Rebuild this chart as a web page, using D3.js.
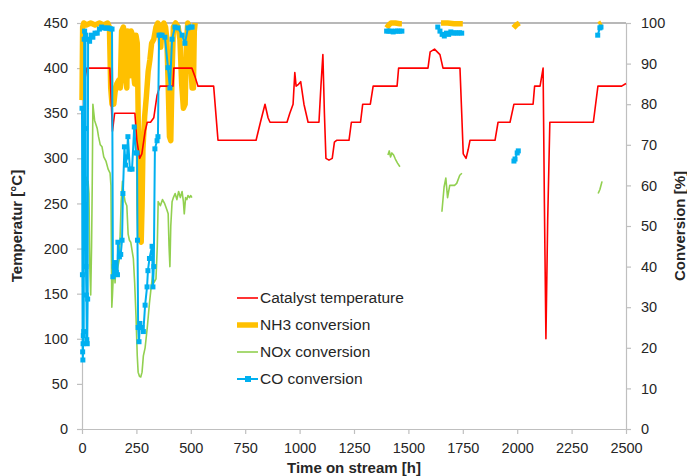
<!DOCTYPE html>
<html>
<head>
<meta charset="utf-8">
<script src="https://cdn.jsdelivr.net/npm/d3@7"></script>
<style>
body { margin: 0; background: #fff; }
svg text { font-family: "Liberation Sans", Arial, sans-serif; fill: #262626; }
</style>
</head>
<body>
<svg id="chart" width="687" height="476"></svg>
<script>
// axis ticks
const xTicks = [0, 250, 500, 750, 1000, 1250, 1500, 1750, 2000, 2250, 2500];
const tempTicks = [0, 50, 100, 150, 200, 250, 300, 350, 400, 450];
const convTicks = [0, 10, 20, 30, 40, 50, 60, 70, 80, 90, 100];

// [hours, °C]
const tempData = [[0,300],[8,300],[15,390],[22,400],[60,400],[100,400],[128,400],[140,330],[150,350],[200,350],[243,350],
[252,320],[265,300],[275,305],[290,330],[300,340],[315,340],[330,345],[345,370],[358,380],[390,380],[418,380],[422,400],
[460,400],[505,400],[520,390],[533,380],[570,380],[605,380],[625,320],[700,320],[750,320],[800,320],[820,340],[841,360],
[855,345],[864,340],[900,340],[942,340],[955,350],[970,360],[978,395],[984,380],[995,382],[1005,385],[1020,360],[1039,340],
[1089,340],[1098,380],[1107,415],[1114,350],[1121,300],[1135,298],[1150,300],[1160,318],[1170,320],[1227,320],[1238,340],
[1280,340],[1290,360],[1325,360],[1338,380],[1400,380],[1448,380],[1455,400],[1590,400],[1600,418],[1620,421],[1645,415],
[1659,400],[1737,400],[1745,350],[1752,305],[1765,300],[1775,310],[1783,320],[1898,320],[1912,340],[1967,340],[1985,360],
[2073,360],[2080,380],[2105,380],[2119,400],[2125,250],[2132,100],[2140,230],[2150,340],[2343,340],[2350,340],[2371,380],
[2480,380],[2500,383]];

// [hours, %], null = gap
const nh3Data = [[0,81],[3,99],[8,100],[20,99.5],[40,100],[60,99.5],[80,100],[100,99.5],[118,100],[126,99],[132,84],[138,80],
[146,80],[152,83],[160,85],[170,86],[176,84],[182,98],[190,99],[196,97],[200,86],[206,84],[210,98],[216,96],[220,87],[226,98],
[232,97],[236,88],[242,85],[248,97],[254,95],[258,78],[262,55],[266,47],[272,46],[276,55],[280,69],[288,77],[296,82],[304,88],
[312,91],[320,95],[330,96],[340,99],[348,100],[356,99],[362,94],[368,99],[376,100],[384,99],[390,96],[396,85],[402,72],
[408,71],[414,88],[420,99],[430,100],[442,99],[450,96],[458,85],[466,79],[474,80],[480,95],[486,100],[494,99],[500,90],
[506,84],[512,84],[516,98],[520,100],
[1410,null],[1400,98.8],[1410,99.5],[1420,100],[1440,100],[1460,99.8],[1470,99.8],
[1500,null],[1650,100],[1680,100],[1710,99.8],[1750,99.8],
[1800,null],[1983,98.8],[1995,99.5],[2010,100],
[2100,null],[2375,99.6],[2388,100]];

const noxData = [[3,35],[5,45],[8,50],[12,58],[16,60],[20,62],[24,60],[28,61],[32,58],[36,40],[40,33],[44,45],[47,60],[50,80],
[54,78],[58,76],[64,75],[70,74],[76,72],[84,70],[92,69.5],[100,67],[110,66],[120,64],[129,63],[133,60],[137,30],[140,33],
[144,38],[148,40],[152,36],[156,41],[160,38],[165,40],[172,42],[180,56],[186,61],[192,58],[198,56],[206,55],[212,48],
[218,46.5],[224,46],[230,44],[236,42],[242,36],[248,28],[254,18],[258,14],[264,13],[270,12.8],[276,14],[282,18],[290,20],
[300,25],[310,31],[318,35],[325,38],[330,36],[340,37],[346,45],[350,56],[360,55],[370,56.5],[380,55.5],[390,54],[396,53],
[400,45],[404,40],[408,50],[414,56],[420,57],[428,58],[436,56.5],[444,58.5],[452,57],[460,58.5],[466,56],[470,53],[476,57],
[482,56.5],[487,57.5],[494,57],[500,57.5],[505,57],
[1000,null],[1406,67.5],[1412,68.5],[1418,67],[1424,68],[1432,67.5],[1440,66.5],[1450,65.5],[1461,64.6],
[1500,null],[1654,53.5],[1664,59.6],[1672,61.8],[1680,57],[1690,60],[1712,60],[1722,60.5],[1736,62.5],[1746,63],
[2000,null],[2372,58],[2380,59],[2390,61]];

const coData = [[0,79],[2,38],[3,19],[4,17],[5,21],[6,23],[8,24],[10,96],[12,98],[14,74],[16,97],[18,40],[20,33],[22,22],
[24,21],[26,32],[28,96],[35,95.5],[42,97],[50,96.5],[60,97.5],[70,97.5],[80,98.5],[90,99],[100,98.8],[110,98.7],[120,98.8],
[130,98.6],[138,98.5],[142,37.5],[148,40],[152,41],[158,38.6],[163,38],[165,46],[172,42.4],[178,43],[184,46.5],[188,58],
[195,69.5],[200,65],[207,67],[211,72],[220,64],[230,64],[240,74.4],[248,68],[253,68],[255,46.5],[258,25],[262,21.5],
[266,26],[276,25],[282,24],[290,30.5],[299,35],[303,39],[310,42],[322,45],[326,35],[330,40],[335,69],[345,71],[349,72],
[354,97],[360,97],[368,97],[381,96.5],[395,89],[404,84],[414,96],[427,99],[441,98.8],[460,97],[473,95],[487,98.8],
[500,99],[506,99],
[1000,null],[1400,98],[1410,98],[1420,98],[1430,97.8],[1440,98],[1450,98],[1460,98],[1470,98],
[1500,null],[1635,99],[1645,98],[1655,97.2],[1665,96.8],[1675,97.5],[1685,97.2],[1695,97.8],[1705,97.5],[1715,97.6],
[1725,97.5],[1735,97.6],[1745,97.5],
[1800,null],[1985,66],[1990,66.5],[2000,68],[2005,68.5],
[2100,null],[2370,97],[2380,98.8],[2385,99]];

const legendNames = ["Catalyst temperature", "NH3 conversion", "NOx conversion", "CO conversion"];
const colors = ["#ff0000", "#ffc000", "#92d050", "#00b0f0"];

const margin = {left: 82, right: 61, top: 23, bottom: 47};
const W = 687, H = 476;

const svg = d3.select("#chart");

const x = d3.scaleLinear().domain([0, 2500]).range([margin.left, W - margin.right]);
const yT = d3.scaleLinear().domain([0, 450]).range([H - margin.bottom, margin.top]);
const yC = d3.scaleLinear().domain([0, 100]).range([H - margin.bottom, margin.top]);

// axes
const gx = svg.append("g")
.attr("transform", `translate(0, ${H - margin.bottom})`)
.call(d3.axisBottom(x).tickValues(xTicks).tickFormat(d3.format("d")).tickSize(5).tickPadding(9).tickSizeOuter(0));

const gl = svg.append("g")
.attr("transform", `translate(${margin.left}, 0)`)
.call(d3.axisLeft(yT).tickValues(tempTicks).tickFormat(d3.format("d")).tickSize(5).tickPadding(9).tickSizeOuter(0));

const gr = svg.append("g")
.attr("transform", `translate(${W - margin.right}, 0)`)
.call(d3.axisRight(yC).tickValues(convTicks).tickFormat(d3.format("d")).tickSize(5).tickPadding(10).tickSizeOuter(0));

[gx, gl, gr].forEach(g => {
g.selectAll("path.domain").attr("stroke", "#bfbfbf").attr("stroke-width", 1.2);
g.selectAll(".tick line").attr("stroke", "#bfbfbf").attr("stroke-width", 1.2);
g.selectAll(".tick text").attr("font-size", 14.5).attr("fill", "#333");
});

// top line at 450
svg.append("line")
.attr("x1", x(0)).attr("x2", x(2500))
.attr("y1", yT(450)).attr("y2", yT(450))
.attr("stroke", "#a0a0a0").attr("stroke-width", 1.5);

// axis titles
svg.append("text")
.attr("x", (x(0) + x(2500)) / 2).attr("y", 473)
.attr("text-anchor", "middle")
.attr("font-size", 15).attr("font-weight", "bold")
.text("Time on stream [h]");

svg.append("text")
.attr("transform", `translate(22, ${yT(225)}) rotate(-90)`)
.attr("text-anchor", "middle")
.attr("font-size", 15).attr("font-weight", "bold")
.text("Temperatur [°C]");

svg.append("text")
.attr("transform", `translate(685, ${yT(225)}) rotate(-90)`)
.attr("text-anchor", "middle")
.attr("font-size", 15).attr("font-weight", "bold")
.text("Conversion [%]");

// series
const lineT = d3.line().defined(d => d[1] !== null).x(d => x(d[0])).y(d => yT(d[1]));
const lineC = d3.line().defined(d => d[1] !== null).x(d => x(d[0])).y(d => yC(d[1]));

svg.append("path").datum(nh3Data)
.attr("d", lineC).attr("fill", "none")
.attr("stroke", colors[1]).attr("stroke-width", 5.5).attr("stroke-linejoin", "round");

svg.append("path").datum(tempData)
.attr("d", lineT).attr("fill", "none")
.attr("stroke", colors[0]).attr("stroke-width", 1.6).attr("stroke-linejoin", "round");

svg.append("path").datum(noxData)
.attr("d", lineC).attr("fill", "none")
.attr("stroke", colors[2]).attr("stroke-width", 1.6).attr("stroke-linejoin", "round");

svg.append("path").datum(coData)
.attr("d", lineC).attr("fill", "none")
.attr("stroke", colors[3]).attr("stroke-width", 2).attr("stroke-linejoin", "round");

svg.selectAll(".co-marker")
.data(coData.filter(d => d[1] !== null))
.join("rect")
.attr("class", "co-marker")
.attr("x", d => x(d[0]) - 2.5).attr("y", d => yC(d[1]) - 2.5)
.attr("width", 5).attr("height", 5)
.attr("fill", colors[3]);

// legend
const legend = svg.append("g").attr("transform", "translate(237, 298)");

const items = legend.selectAll("g")
.data(legendNames)
.join("g")
.attr("transform", (d, i) => `translate(0, ${i * 27})`);

items.append("line")
.attr("x1", 0).attr("x2", 21)
.attr("stroke", (d, i) => colors[i])
.attr("stroke-width", (d, i) => i === 1 ? 5.5 : (i === 3 ? 2 : 1.6));

items.filter((d, i) => i === 3).append("rect")
.attr("x", 8).attr("y", -3).attr("width", 6).attr("height", 6)
.attr("fill", colors[3]);

items.append("text")
.attr("x", 23).attr("dy", "0.35em")
.attr("font-size", 15.5)
.text(d => d);
</script>
</body>
</html>
